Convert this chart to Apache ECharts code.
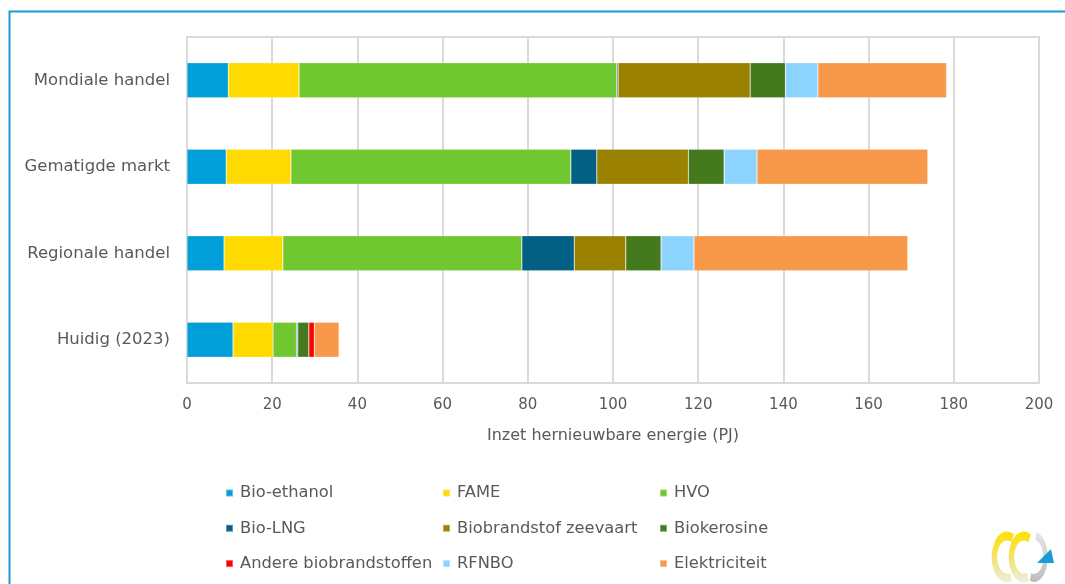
<!DOCTYPE html>
<html>
<head>
<meta charset="utf-8">
<script src="https://cdn.jsdelivr.net/npm/echarts@6/dist/echarts.min.js"></script>
<style>
html,body{margin:0;padding:0;background:#fff;}
#chart{width:1065px;height:584px;}
</style>
</head>
<body>
<div id="chart"></div>
<script>
// Categories (top to bottom)
var categories = ['Mondiale handel', 'Gematigde markt', 'Regionale handel', 'Huidig (2023)'];
// Series values (PJ), same order as categories
var bioEthanol    = [9.7, 9.2, 8.7, 10.8];
var fame          = [16.6, 15.2, 13.8, 9.4];
var hvo           = [74.6, 65.7, 56.1, 5.5];
var bioLng        = [0.3, 6.1, 12.3, 0.3];
var zeevaart      = [31.0, 21.5, 12.1, 0];
var biokerosine   = [8.3, 8.4, 8.3, 2.6];
var andere        = [0, 0, 0, 1.3];
var rfnbo         = [7.6, 7.7, 7.7, 0];
var elektriciteit = [30.2, 40.1, 50.2, 5.8];
var seriesNames = ['Bio-ethanol', 'FAME', 'HVO', 'Bio-LNG', 'Biobrandstof zeevaart', 'Biokerosine', 'Andere biobrandstoffen', 'RFNBO', 'Elektriciteit'];
var xTicks = {min: 0, max: 200, interval: 20};
var axisName = 'Inzet hernieuwbare energie (PJ)';

var seriesData = [bioEthanol, fame, hvo, bioLng, zeevaart, biokerosine, andere, rfnbo, elektriciteit];
var colors = ['#009FD9', '#FFDA00', '#71C72F', '#005F83', '#9A8200', '#45791E', '#FF0000', '#8DD3FF', '#F7984A'];
var FONT = '"DejaVu Sans", Verdana, sans-serif';
var TXT = '#595959';

var chart = echarts.init(document.getElementById('chart'), null, {renderer: 'canvas'});

function legendCol(left, names) {
  return {
    orient: 'vertical', left: left, top: 485, padding: 0,
    itemWidth: 7, itemHeight: 7, itemGap: 19.3, icon: 'rect',
    textStyle: {fontFamily: FONT, fontSize: 16.3, color: TXT, lineHeight: 16, padding: [0, 0, 0, 2]},
    data: names
  };
}

var yellowGrad = {type: 'linear', x: 0, y: 0, x2: 0, y2: 1,
  colorStops: [{offset: 0, color: '#FFE100'}, {offset: 0.55, color: '#F2E374'}, {offset: 1, color: '#EEEEE4'}]};
var greyGrad = {type: 'linear', x: 0, y: 0, x2: 0, y2: 1,
  colorStops: [{offset: 0, color: '#E6E6E6'}, {offset: 1, color: '#BDBDBD'}]};

var option = {
  animation: false,
  backgroundColor: '#fff',
  color: colors,
  grid: {left: 187, right: 26, top: 37, bottom: 201, show: true, borderColor: '#DADADA', borderWidth: 2, backgroundColor: 'transparent'},
  xAxis: {
    type: 'value', min: xTicks.min, max: xTicks.max, interval: xTicks.interval,
    name: axisName, nameLocation: 'middle', nameGap: 45,
    nameTextStyle: {fontFamily: FONT, fontSize: 16, color: TXT},
    axisLine: {show: true, lineStyle: {color: '#DADADA', width: 2}},
    axisTick: {show: false},
    axisLabel: {fontFamily: FONT, fontSize: 15, color: TXT, margin: 15},
    splitLine: {show: true, lineStyle: {color: '#DADADA', width: 2}}
  },
  yAxis: {
    type: 'category', data: categories, inverse: true,
    axisLine: {show: false}, axisTick: {show: false},
    axisLabel: {fontFamily: FONT, fontSize: 16.5, color: TXT, margin: 17},
    splitLine: {show: false}
  },
  legend: [
    legendCol(225, [seriesNames[0], seriesNames[3], seriesNames[6]]),
    legendCol(442, [seriesNames[1], seriesNames[4], seriesNames[7]]),
    legendCol(659, [seriesNames[2], seriesNames[5], seriesNames[8]])
  ],
  series: seriesNames.map(function (n, i) {
    return {
      name: n, type: 'bar', stack: 'total', barWidth: 35,
      itemStyle: {color: colors[i], borderColor: 'rgba(255,255,255,0.35)', borderWidth: 0.6},
      data: seriesData[i]
    };
  }),
  graphic: [
    {type: 'rect', z: 100, shape: {x: 9.5, y: 11.5, width: 1200, height: 800}, style: {fill: 'none', stroke: '#1A9BD7', lineWidth: 2}},
    {type: 'arc', z: 99, x: 1034, y: 557, scaleX: 0.55, shape: {cx: 0, cy: 0, r: 21, startAngle: -Math.PI * 0.45, endAngle: Math.PI * 0.6}, style: {fill: 'none', stroke: greyGrad, lineWidth: 8}},
    {type: 'arc', z: 100, x: 1007, y: 557, scaleX: 0.6, shape: {cx: 0, cy: 0, r: 21, startAngle: Math.PI * 0.4, endAngle: Math.PI * 1.65}, style: {fill: 'none', stroke: yellowGrad, lineWidth: 9}},
    {type: 'arc', z: 100, x: 1024, y: 557, scaleX: 0.6, shape: {cx: 0, cy: 0, r: 21, startAngle: Math.PI * 0.4, endAngle: Math.PI * 1.65}, style: {fill: 'none', stroke: yellowGrad, lineWidth: 9}},
    {type: 'polygon', z: 101, shape: {points: [[1037, 563], [1054, 563], [1051, 549]]}, style: {fill: '#1A9BD7'}}
  ]
};
chart.setOption(option);
</script>
</body>
</html>
